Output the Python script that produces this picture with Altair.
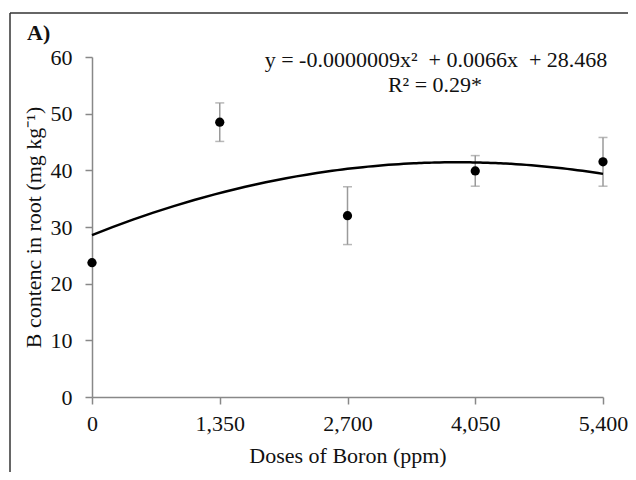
import altair as alt
import pandas as pd

doses = [0, 1350, 2700, 4050, 5400]
b_content = [23.7, 48.5, 32.0, 39.9, 41.5]
err = [0.0, 3.4, 5.1, 2.7, 4.3]
x_ticks = [0, 1350, 2700, 4050, 5400]
y_ticks = [0, 10, 20, 30, 40, 50, 60]
equation = "y = -0.0000009x\u00b2 \u00a0+ 0.0066x \u00a0+ 28.468"
r2_text = "R\u00b2 = 0.29*"
panel_label = "A)"

df = pd.DataFrame({
    "dose": doses,
    "b": b_content,
    "lo": [v - e for v, e in zip(b_content, err)],
    "hi": [v + e for v, e in zip(b_content, err)],
})

FONT = "Liberation Serif"
FS = 22

x_enc = alt.X("dose:Q", scale=alt.Scale(domain=[0, 5400], nice=False),
              axis=alt.Axis(values=x_ticks, format=",.0f", title="Doses of Boron (ppm)",
                            titlePadding=11, labelPadding=9, labelFlush=False))
y_enc = alt.Y("b:Q", scale=alt.Scale(domain=[0, 60], nice=False),
              axis=alt.Axis(values=y_ticks, title="B contenc in root (mg kg\u207b\u00b9)",
                            titlePadding=5, labelPadding=13, labelFlush=False))

base = alt.Chart(df)

errbars = base.mark_rule(color="#9a9a9a", strokeWidth=1.5).encode(
    x=x_enc, y=alt.Y("lo:Q"), y2="hi:Q")
cap_lo = base.mark_tick(color="#9a9a9a", thickness=1.5, size=9, orient="horizontal").encode(
    x="dose:Q", y="lo:Q")
cap_hi = base.mark_tick(color="#9a9a9a", thickness=1.5, size=9, orient="horizontal").encode(
    x="dose:Q", y="hi:Q")

curve = base.transform_regression(
    "dose", "b", method="poly", order=2, extent=[0, 5400]
).mark_line(color="black", strokeWidth=2.5).encode(x="dose:Q", y="b:Q")

points = base.mark_circle(color="black", opacity=1, size=85).encode(x=x_enc, y=y_enc)

eq1 = alt.Chart(pd.DataFrame({"t": [equation]})).mark_text(
    font=FONT, fontSize=FS, color="#111", align="center", baseline="middle"
).encode(x=alt.value(344), y=alt.value(3), text="t:N")
eq2 = alt.Chart(pd.DataFrame({"t": [r2_text]})).mark_text(
    font=FONT, fontSize=FS, color="#111", align="center", baseline="middle"
).encode(x=alt.value(343), y=alt.value(28), text="t:N")
lab = alt.Chart(pd.DataFrame({"t": [panel_label]})).mark_text(
    font=FONT, fontSize=FS, fontWeight="bold", color="#111", align="left", baseline="middle"
).encode(x=alt.value(-65), y=alt.value(-24), text="t:N")

border_left = alt.Chart(pd.DataFrame({"a": [0]})).mark_rule(color="#333", strokeWidth=1.5).encode(
    x=alt.value(-82), y=alt.value(-44), y2=alt.value(440))
border_top = alt.Chart(pd.DataFrame({"a": [0]})).mark_rule(color="#333", strokeWidth=1.5).encode(
    x=alt.value(-82), x2=alt.value(560), y=alt.value(-44))

chart = alt.layer(
    errbars, cap_lo, cap_hi, curve, points, eq1, eq2, lab, border_left, border_top
).properties(
    width=511, height=340,
    padding={"left": 84, "top": 49, "right": 25, "bottom": 75},
    autosize=alt.AutoSizeParams(type="none"),
).configure_view(stroke=None).configure_axis(
    grid=False, domainColor="#888", tickColor="#888", domainWidth=1.5, tickWidth=1.5,
    tickSize=7, labelFont=FONT, titleFont=FONT, labelFontSize=FS, titleFontSize=FS,
    labelColor="#111", titleColor="#111", titleFontWeight="normal",
)

chart.save("out.html", embed_options={"renderer": "svg", "actions": False})
